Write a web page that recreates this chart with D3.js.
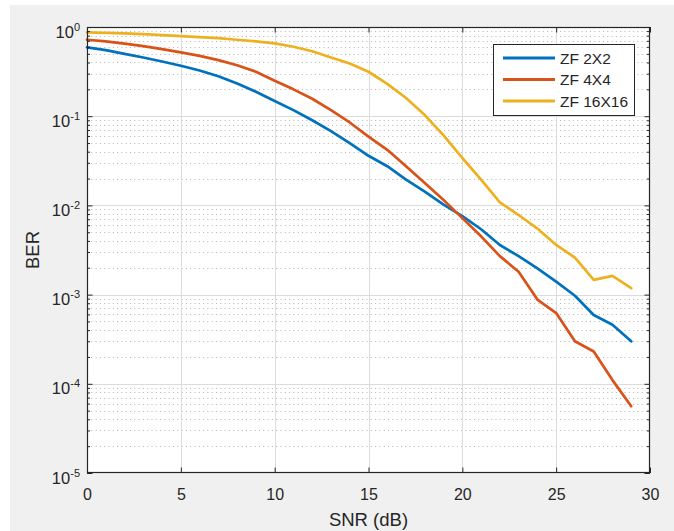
<!DOCTYPE html>
<html>
<head>
<meta charset="utf-8">
<script src="https://cdn.jsdelivr.net/npm/d3@7"></script>
<style>
  body { margin: 0; background: #ffffff; }
  svg { display: block; }
  text { font-family: "Liberation Sans", Arial, Helvetica, sans-serif; fill: #262626; }
</style>
</head>
<body>
<svg id="chart" width="674" height="531"></svg>
<script>
// SNR sweep (dB) and simulated BER for zero-forcing receivers
const snrDb = [0, 1, 2, 3, 4, 5, 6, 7, 8, 9, 10, 11, 12, 13, 14,
               15, 16, 17, 18, 19, 20, 21, 22, 23, 24, 25, 26, 27, 28, 29];

const berZF2x2 = [0.59, 0.55, 0.50, 0.455, 0.41, 0.368, 0.325, 0.28, 0.232, 0.188,
                  0.148, 0.117, 0.090, 0.068, 0.050, 0.036, 0.0275, 0.0195, 0.0143, 0.0102,
                  0.0076, 0.0054, 0.0036, 0.0027, 0.00197, 0.0014, 0.00097, 0.00059, 0.00046, 0.0003];

const berZF4x4 = [0.72, 0.69, 0.65, 0.61, 0.565, 0.52, 0.475, 0.425, 0.372, 0.315,
                  0.250, 0.20, 0.157, 0.117, 0.085, 0.059, 0.042, 0.0275, 0.0178, 0.0115,
                  0.0072, 0.0045, 0.0027, 0.0018, 0.00088, 0.00062, 0.0003, 0.00023, 0.00011, 0.000056];

const berZF16x16 = [0.87, 0.86, 0.85, 0.83, 0.81, 0.79, 0.77, 0.75, 0.72, 0.69,
                    0.655, 0.60, 0.535, 0.455, 0.39, 0.315, 0.23, 0.16, 0.103, 0.061,
                    0.034, 0.0195, 0.0108, 0.0078, 0.0055, 0.0036, 0.0026, 0.00146, 0.00162, 0.00118];

const seriesNames = ["ZF 2X2", "ZF 4X4", "ZF 16X16"];
const seriesColors = ["#0072BD", "#D95319", "#EDB120"];

const xTickValues = [0, 5, 10, 15, 20, 25, 30];
const yTickExponents = [0, -1, -2, -3, -4, -5];

const xLabel = "SNR (dB)";
const yLabel = "BER";

// ---- layout ----
const W = 674, H = 531;
const plot = { left: 87, right: 650, top: 27, bottom: 473 };
const ink = "#262626";

const svg = d3.select("#chart");

// figure background (MATLAB-style grey panel)
svg.append("rect").attr("x", 0).attr("y", 0).attr("width", W).attr("height", H).attr("fill", "#ffffff");
svg.append("rect").attr("x", 10).attr("y", 5).attr("width", W - 10).attr("height", H - 5).attr("fill", "#f0f0f0");

const x = d3.scaleLinear().domain([0, 30]).range([plot.left, plot.right]);
const y = d3.scaleLog().domain([1e-5, 1]).range([plot.bottom, plot.top]);

// axes background
svg.append("rect")
  .attr("x", plot.left).attr("y", plot.top)
  .attr("width", plot.right - plot.left).attr("height", plot.bottom - plot.top)
  .attr("fill", "#ffffff");

// minor horizontal grid (dotted) at 2..9 x 10^k
const minorTicks = y.ticks().filter(v => {
  const m = v / Math.pow(10, Math.floor(Math.log10(v) + 1e-9));
  return Math.abs(m - 1) > 1e-6;
});
const decadeTicks = yTickExponents.map(e => Math.pow(10, e));

svg.append("g")
  .selectAll("line")
  .data(minorTicks)
  .join("line")
  .attr("x1", plot.left).attr("x2", plot.right)
  .attr("y1", d => Math.round(y(d)) + 0.5).attr("y2", d => Math.round(y(d)) + 0.5)
  .attr("stroke", "#b4b4b4")
  .attr("stroke-width", 1)
  .attr("stroke-dasharray", "1,3.3");

// major grid
const grid = svg.append("g").attr("stroke", "#dcdcdc").attr("stroke-width", 1);
grid.selectAll("line.gx")
  .data(xTickValues.slice(1, -1))
  .join("line")
  .attr("class", "gx")
  .attr("x1", d => Math.round(x(d)) + 0.5).attr("x2", d => Math.round(x(d)) + 0.5)
  .attr("y1", plot.top).attr("y2", plot.bottom);
grid.selectAll("line.gy")
  .data(decadeTicks.slice(1, -1))
  .join("line")
  .attr("class", "gy")
  .attr("x1", plot.left).attr("x2", plot.right)
  .attr("y1", d => Math.round(y(d)) + 0.5).attr("y2", d => Math.round(y(d)) + 0.5);

// BER curves
const seriesData = [berZF2x2, berZF4x4, berZF16x16];
const line = d3.line()
  .x((d, i) => x(snrDb[i]))
  .y(d => y(d));

svg.append("g")
  .selectAll("path")
  .data(seriesData)
  .join("path")
  .attr("d", d => line(d))
  .attr("fill", "none")
  .attr("stroke", (d, i) => seriesColors[i])
  .attr("stroke-width", 2.7)
  .attr("stroke-linejoin", "round")
  .attr("stroke-linecap", "round");

// axes with inward ticks
const axisStyle = g => {
  g.select(".domain").remove();
  g.selectAll(".tick line").attr("stroke", ink);
};

const bottomAxis = svg.append("g")
  .attr("transform", `translate(0,${plot.bottom})`)
  .call(d3.axisBottom(x).tickValues(xTickValues).tickSize(-5.5).tickPadding(16).tickFormat(d3.format("d")))
  .call(axisStyle);
bottomAxis.selectAll("text")
  .attr("font-size", 16)
  .style("font-family", '"Liberation Sans", Arial, sans-serif')
  .attr("fill", ink)
  .attr("dy", null)
  .attr("y", 26.5);

svg.append("g")
  .attr("transform", `translate(0,${plot.top})`)
  .call(d3.axisTop(x).tickValues(xTickValues).tickSize(-5.5).tickFormat(""))
  .call(axisStyle);

svg.append("g")
  .attr("transform", `translate(${plot.left},0)`)
  .call(d3.axisLeft(y).tickValues(decadeTicks).tickSize(-5.5).tickFormat(""))
  .call(axisStyle);

svg.append("g")
  .attr("transform", `translate(${plot.left},0)`)
  .call(d3.axisLeft(y).tickValues(minorTicks).tickSize(-3).tickFormat(""))
  .call(axisStyle);

svg.append("g")
  .attr("transform", `translate(${plot.right},0)`)
  .call(d3.axisRight(y).tickValues(decadeTicks).tickSize(-5.5).tickFormat(""))
  .call(axisStyle);

svg.append("g")
  .attr("transform", `translate(${plot.right},0)`)
  .call(d3.axisRight(y).tickValues(minorTicks).tickSize(-3).tickFormat(""))
  .call(axisStyle);

// y tick labels as 10^k
const yLabels = svg.append("g");
yTickExponents.forEach(e => {
  const t = yLabels.append("text")
    .attr("x", 80)
    .attr("y", y(Math.pow(10, e)) + 10.5)
    .attr("text-anchor", "end")
    .attr("font-size", 16.5);
  t.append("tspan").text("10");
  t.append("tspan").attr("font-size", 11).attr("dy", -7).text(String(e));
});

// axes box
svg.append("rect")
  .attr("x", plot.left + 0.5).attr("y", plot.top + 0.5)
  .attr("width", plot.right - plot.left - 1).attr("height", plot.bottom - plot.top - 1)
  .attr("fill", "none")
  .attr("stroke", ink)
  .attr("stroke-width", 1.2);

// axis titles
svg.append("text")
  .attr("x", (plot.left + plot.right) / 2)
  .attr("y", 526)
  .attr("text-anchor", "middle")
  .attr("font-size", 18.5)
  .text(xLabel);

svg.append("text")
  .attr("transform", `translate(38.5,${(plot.top + plot.bottom) / 2}) rotate(-90)`)
  .attr("text-anchor", "middle")
  .attr("font-size", 18.5)
  .text(yLabel);

// legend
const legend = svg.append("g");
legend.append("rect")
  .attr("x", 493.5).attr("y", 44.5)
  .attr("width", 141).attr("height", 71)
  .attr("fill", "#ffffff")
  .attr("stroke", ink)
  .attr("stroke-width", 1);

const legendRowY = d3.scalePoint().domain(seriesNames).range([58, 101]);
const rows = legend.selectAll("g.row")
  .data(seriesNames)
  .join("g")
  .attr("class", "row")
  .attr("transform", d => `translate(0,${legendRowY(d)})`);
rows.append("line")
  .attr("x1", 503).attr("x2", 555)
  .attr("y1", 0).attr("y2", 0)
  .attr("stroke", (d, i) => seriesColors[i])
  .attr("stroke-width", 2.8);
rows.append("text")
  .attr("x", 560)
  .attr("y", 5.5)
  .attr("font-size", 15.5)
  .text(d => d);
</script>
</body>
</html>
